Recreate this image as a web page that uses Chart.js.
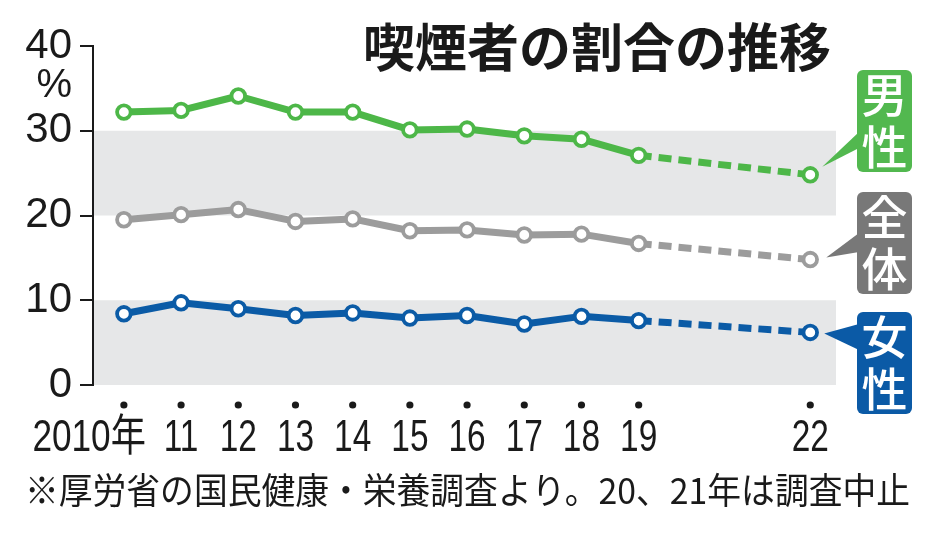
<!DOCTYPE html>
<html><head><meta charset="utf-8">
<script src="https://cdn.jsdelivr.net/npm/chart.js@4.4.1/dist/chart.umd.min.js"></script>
<style>html,body{margin:0;padding:0;background:#fff}#wrap{width:934px;height:539px;position:relative}</style>
</head><body><div id="wrap"><canvas id="c" width="934" height="539"></canvas></div>
<script>
const titleText = '喫煙者の割合の推移';
const noteText = '※厚労省の国民健康・栄養調査より。20、21年は調査中止';
const years = [2010, 2011, 2012, 2013, 2014, 2015, 2016, 2017, 2018, 2019, 2022];
const yearLabels = ['2010年', '11', '12', '13', '14', '15', '16', '17', '18', '19', '22'];
const men = [32.2, 32.4, 34.1, 32.2, 32.2, 30.1, 30.2, 29.4, 29.0, 27.1, 24.8];
const total = [19.5, 20.1, 20.7, 19.3, 19.6, 18.2, 18.3, 17.7, 17.8, 16.7, 14.8];
const women = [8.4, 9.7, 9.0, 8.2, 8.5, 7.9, 8.2, 7.2, 8.1, 7.6, 6.2];
const seriesNames = ['男性', '全体', '女性'];
const yTicks = [0, 10, 20, 30, 40];
const yUnit = '%';
const bands = [[0, 10], [20, 30]];

const lineColors = ['#4db748', '#9c9c9c', '#0b5ba6'];
const boxColors = ['#52b84f', '#787878', '#0b5aa6'];
const boxLayout = [
  {top: 70, b0: 62, b1: 78, tx: 12, ty: -8},
  {top: 192, b0: 41, b1: 60, tx: 16, ty: -2},
  {top: 312, b0: 12, b1: 38, tx: 14, ty: 1}
];

const mk = (vals, i) => ({
  label: seriesNames[i],
  data: years.map((y, k) => ({x: y, y: vals[k]})),
  borderColor: lineColors[i],
  backgroundColor: '#fff',
  borderWidth: 7,
  borderCapStyle: 'butt',
  borderJoinStyle: 'round',
  pointRadius: 6.8,
  pointBorderWidth: 3.8,
  pointBackgroundColor: '#fff',
  pointBorderColor: lineColors[i],
  tension: 0,
  segment: {
    borderDash: ctx => (ctx.p1.parsed.x - ctx.p0.parsed.x > 1 ? [13, 7] : undefined)
  }
});

function condensed(ctx, text, x, y, sx, align) {
  ctx.save();
  ctx.translate(x, y);
  ctx.scale(sx, 1);
  ctx.textAlign = align;
  ctx.fillText(text, 0, 0);
  ctx.restore();
}

const deco = {
  id: 'deco',
  beforeDatasetsDraw(chart) {
    const {ctx, chartArea: a, scales: {y}} = chart;
    ctx.save();
    ctx.fillStyle = '#e6e7e8';
    bands.forEach(([lo, hi]) => {
      const t = y.getPixelForValue(hi), b = y.getPixelForValue(lo);
      ctx.fillRect(a.left + 1, t, a.right - a.left - 1, b - t);
    });
    ctx.restore();
  },
  afterDraw(chart) {
    const {ctx, chartArea: a, scales: {x, y}} = chart;
    ctx.save();
    ctx.fillStyle = '#1a1a1a';
    ctx.font = 'bold 52px "Noto Sans CJK JP"';
    ctx.textAlign = 'center';
    ctx.textBaseline = 'middle';
    ctx.fillText(titleText, 597, 47, 473);
    ctx.font = '40px "Liberation Sans", Arial';
    ctx.textAlign = 'right';
    ctx.fillText(yUnit, 72, y.getPixelForValue(40) + 40);
    years.forEach((yr, k) => {
      const px = x.getPixelForValue(yr);
      ctx.beginPath();
      ctx.arc(px, a.bottom + 20, 3.6, 0, Math.PI * 2);
      ctx.fillStyle = '#1a1a1a';
      ctx.fill();
      ctx.font = '44px "Liberation Sans", "Noto Sans CJK JP"';
      ctx.textBaseline = 'middle';
      if (k === 0) condensed(ctx, yearLabels[k], px + 22, a.bottom + 54, 0.8, 'right');
      else condensed(ctx, yearLabels[k], px, a.bottom + 54, 0.76, 'center');
    });
    ctx.font = '36px "Noto Sans CJK JP"';
    ctx.textAlign = 'left';
    ctx.textBaseline = 'middle';
    ctx.fillText(noteText, 25, 490, 885);
    chart.data.datasets.forEach((ds, i) => {
      const meta = chart.getDatasetMeta(i);
      const pt = meta.data[meta.data.length - 1];
      const L = boxLayout[i];
      const bx = a.right + 21, bw = 55, bh = 102, bt = L.top;
      ctx.fillStyle = boxColors[i];
      ctx.beginPath();
      ctx.moveTo(pt.x + L.tx, pt.y + L.ty);
      ctx.lineTo(bx + 2, bt + L.b0);
      ctx.lineTo(bx + 2, bt + L.b1);
      ctx.closePath();
      ctx.fill();
      ctx.beginPath();
      ctx.roundRect(bx, bt, bw, bh, 6);
      ctx.fill();
      ctx.fillStyle = '#fff';
      ctx.font = '500 46px "Noto Sans CJK JP"';
      ctx.textAlign = 'center';
      ctx.textBaseline = 'middle';
      const chars = Array.from(ds.label);
      ctx.fillText(chars[0], bx + bw / 2, bt + 25);
      ctx.fillText(chars[1], bx + bw / 2, bt + 77);
    });
    ctx.restore();
  }
};

new Chart(document.getElementById('c'), {
  type: 'line',
  data: {datasets: [mk(men, 0), mk(total, 1), mk(women, 2)]},
  options: {
    responsive: false,
    animation: false,
    devicePixelRatio: 1,
    layout: {padding: {top: 46, right: 98, bottom: 0, left: 0}},
    plugins: {legend: {display: false}, tooltip: {enabled: false}},
    scales: {
      x: {
        type: 'linear', min: 2009.46, max: 2022.45,
        ticks: {display: false},
        grid: {display: false},
        border: {display: false},
        afterFit: s => { s.height = 154; }
      },
      y: {
        min: 0, max: 40,
        afterBuildTicks: s => { s.ticks = yTicks.map(v => ({value: v})); },
        ticks: {
          autoSkip: false,
          color: '#1a1a1a',
          padding: 8,
          font: {family: '"Liberation Sans", Arial', size: 42}
        },
        grid: {drawOnChartArea: false, drawTicks: true, tickLength: 13, color: '#1a1a1a', lineWidth: 2},
        border: {display: true, color: '#1a1a1a', width: 2},
        afterFit: s => { s.width = 93; }
      }
    }
  },
  plugins: [deco]
});
</script></body></html>
